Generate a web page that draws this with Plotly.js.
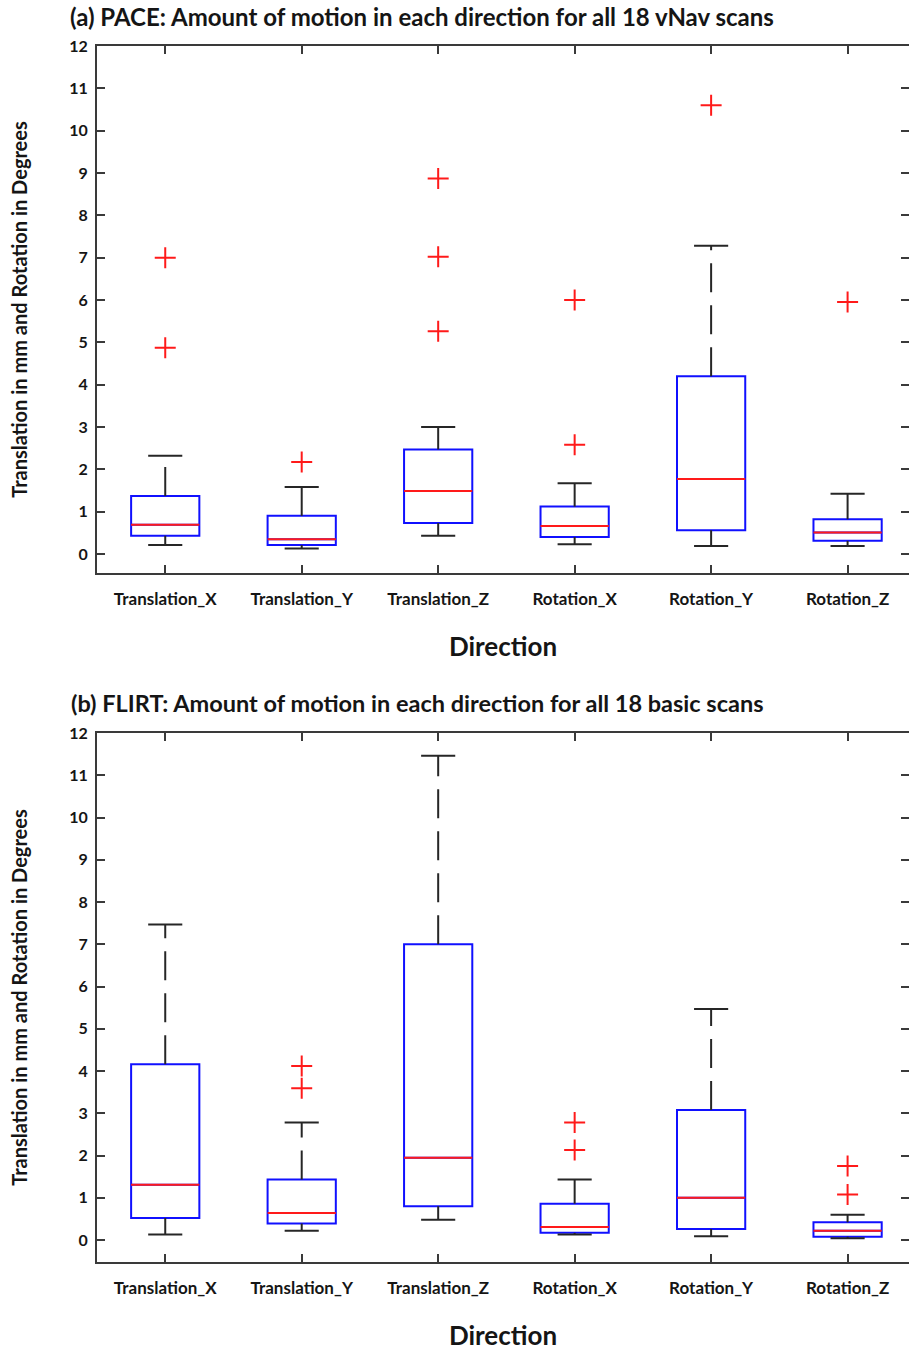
<!DOCTYPE html>
<html>
<head>
<meta charset="utf-8">
<script src="https://cdn.plot.ly/plotly-3.0.1.min.js"></script>
<style>html,body{margin:0;padding:0;background:#fff;}#chart{width:909px;height:1351px;}</style>
</head>
<body>
<div id="chart"></div>
<script>
// ---- data ----
const categories = ['Translation_X', 'Translation_Y', 'Translation_Z', 'Rotation_X', 'Rotation_Y', 'Rotation_Z'];
const categoryPositions = [1, 2, 3, 4, 5, 6];

// (a) PACE
const paceQ1 = [0.43, 0.21, 0.73, 0.40, 0.56, 0.31];
const paceMedian = [0.69, 0.35, 1.49, 0.66, 1.77, 0.51];
const paceQ3 = [1.37, 0.90, 2.47, 1.12, 4.20, 0.82];
const paceLowerWhisker = [0.21, 0.13, 0.43, 0.23, 0.19, 0.19];
const paceUpperWhisker = [2.32, 1.58, 3.00, 1.67, 7.28, 1.42];
const paceOutliers = [[4.87, 7.00], [2.17], [5.26, 7.02, 8.87], [2.58, 6.00], [10.60], [5.95]];

// (b) FLIRT
const flirtQ1 = [0.52, 0.39, 0.80, 0.17, 0.26, 0.08];
const flirtMedian = [1.31, 0.64, 1.95, 0.31, 1.00, 0.22];
const flirtQ3 = [4.16, 1.43, 7.00, 0.86, 3.08, 0.42];
const flirtLowerWhisker = [0.13, 0.22, 0.48, 0.13, 0.09, 0.04];
const flirtUpperWhisker = [7.47, 2.78, 11.46, 1.43, 5.47, 0.60];
const flirtOutliers = [[], [3.59, 4.12], [], [2.13, 2.78], [], [1.08, 1.75]];

const titleA = '(a) PACE: Amount of motion in each direction for all 18 vNav scans';
const titleB = '(b) FLIRT: Amount of motion in each direction for all 18 basic scans';
const yTitle = 'Translation in mm and Rotation in Degrees';
const xTitle = 'Direction';

// ---- styling ----
const FONT = 'Lato, "Open Sans", "DejaVu Sans", sans-serif';
const TEXT = '#151515';
const FRAME = '#3a3a3a';
const RED = '#ff1a1a';
const BOX_W = 0.5, CAP_W = 0.25;

function panelTraces(xa, ya, q1, med, q3, lo, hi, outl) {
  const traces = [];
  // whiskers (dashed), starting at the box edge
  const wx = [], wy = [];
  categoryPositions.forEach((p, i) => {
    wx.push(p, p, null, p, p, null);
    wy.push(q3[i], hi[i], null, q1[i], lo[i], null);
  });
  traces.push({type: 'scatter', mode: 'lines', x: wx, y: wy, xaxis: xa, yaxis: ya,
    line: {color: '#262626', width: 2, dash: '29px,13px'}, hoverinfo: 'skip', showlegend: false});
  // whisker caps
  const cx = [], cy = [];
  categoryPositions.forEach((p, i) => {
    cx.push(p - CAP_W / 2, p + CAP_W / 2, null, p - CAP_W / 2, p + CAP_W / 2, null);
    cy.push(hi[i], hi[i], null, lo[i], lo[i], null);
  });
  traces.push({type: 'scatter', mode: 'lines', x: cx, y: cy, xaxis: xa, yaxis: ya,
    line: {color: '#262626', width: 2}, hoverinfo: 'skip', showlegend: false});
  // boxes
  traces.push({type: 'box', x: categoryPositions, q1: q1, median: med, q3: q3,
    lowerfence: q1, upperfence: q3, width: BOX_W, whiskerwidth: 0,
    xaxis: xa, yaxis: ya, line: {color: '#1010ff', width: 2}, fillcolor: 'rgba(0,0,0,0)',
    boxpoints: false, showlegend: false, hoverinfo: 'skip'});
  // medians
  const mx = [], my = [];
  categoryPositions.forEach((p, i) => {
    mx.push(p - BOX_W / 2, p + BOX_W / 2, null);
    my.push(med[i], med[i], null);
  });
  traces.push({type: 'scatter', mode: 'lines', x: mx, y: my, xaxis: xa, yaxis: ya,
    line: {color: RED, width: 2}, hoverinfo: 'skip', showlegend: false});
  // outliers
  const ox = [], oy = [];
  categoryPositions.forEach((p, i) => outl[i].forEach(v => { ox.push(p); oy.push(v); }));
  traces.push({type: 'scatter', mode: 'markers', x: ox, y: oy, xaxis: xa, yaxis: ya,
    marker: {symbol: 'cross-thin-open', size: 15, color: RED, line: {color: RED, width: 2}},
    hoverinfo: 'skip', showlegend: false});
  return traces;
}

const data = [].concat(
  panelTraces('x', 'y', paceQ1, paceMedian, paceQ3, paceLowerWhisker, paceUpperWhisker, paceOutliers),
  panelTraces('x2', 'y2', flirtQ1, flirtMedian, flirtQ3, flirtLowerWhisker, flirtUpperWhisker, flirtOutliers)
);

function xAxis(anchor) {
  return {
    anchor: anchor, domain: [0, 1], range: [0.5, 6.45],
    tickmode: 'array', tickvals: categoryPositions, ticktext: categories,
    showline: true, mirror: 'ticks', linecolor: FRAME, linewidth: 2,
    ticks: 'inside', ticklen: 8, tickwidth: 2, tickcolor: FRAME,
    showgrid: false, zeroline: false, ticklabelstandoff: 10,
    tickfont: {family: FONT, size: 17, color: TEXT, weight: 'bold'},
    title: {text: xTitle, font: {family: FONT, size: 26, color: TEXT, weight: 'bold'}, standoff: 29}
  };
}
function yAxis(anchor, domain, lo) {
  return {
    anchor: anchor, domain: domain, range: [lo, 12],
    tickmode: 'linear', tick0: 0, dtick: 1,
    showline: true, mirror: 'ticks', linecolor: FRAME, linewidth: 2,
    ticks: 'inside', ticklen: 8, tickwidth: 2, tickcolor: FRAME,
    showgrid: false, zeroline: false, ticklabelstandoff: 4,
    tickfont: {family: FONT, size: 16, color: TEXT, weight: 'bold'},
    title: {text: yTitle, font: {family: FONT, size: 20, color: TEXT, weight: 'bold'}, standoff: 36}
  };
}

const layout = {
  width: 909, height: 1351,
  margin: {l: 97, r: 0, t: 46, b: 89},
  paper_bgcolor: '#fff', plot_bgcolor: '#fff',
  showlegend: false,
  title: {text: titleA, font: {family: FONT, size: 24, color: TEXT, weight: 'bold'},
    xref: 'container', yref: 'container', x: 70 / 909, xanchor: 'left', y: 1 - 18 / 1351, yanchor: 'middle'},
  xaxis: xAxis('y'),
  yaxis: yAxis('x', [0.5666, 1], -0.45),
  xaxis2: xAxis('y2'),
  yaxis2: yAxis('x2', [0, 0.435], -0.52),
  annotations: [{
    text: titleB, xref: 'paper', yref: 'paper', x: (69 - 97) / 812, xanchor: 'left',
    y: 0.435 + (733 - 703) / 1216, yanchor: 'middle', showarrow: false,
    font: {family: FONT, size: 23.5, color: TEXT, weight: 'bold'}
  }]
};

Plotly.newPlot('chart', data, layout, {staticPlot: true, displayModeBar: false});
</script>
</body>
</html>
